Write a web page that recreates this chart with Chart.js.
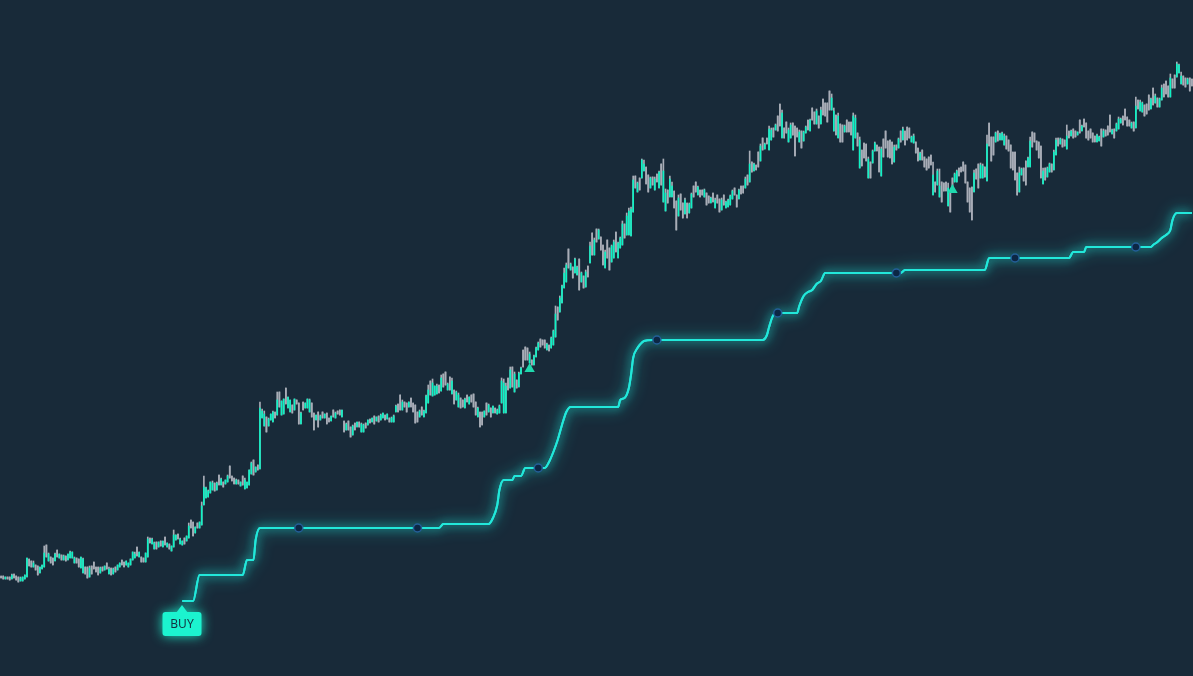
<!DOCTYPE html>
<html>
<head>
<meta charset="utf-8">
<title>Trailing stop chart</title>
<script src="https://cdn.jsdelivr.net/npm/chart.js@4.4.0/dist/chart.umd.min.js"></script>
<style>
  html, body { margin: 0; padding: 0; background: #182a39; overflow: hidden; }
  canvas { display: block; }
</style>
</head>
<body>
<canvas id="chart" width="1193" height="676"></canvas>
<script>
// [open, high, low, close] per bar
const candles = [
  [100,100,98,98],[100,100,97,97],[97,99,97,99],[99,99,97,97],[99,99,96,96],[97,102,97,101],[102,102,98,98],[100,100,96,96],
  [99,99,94,94],[95,99,95,98],[95,99,95,99],[97,101,97,101],[99,118,99,118],[117,117,110,110],[115,115,109,109],[109,115,109,113],
  [111,111,106,106],[110,110,101,101],[103,109,103,109],[107,111,107,111],[109,130,109,123],[131,131,119,119],[115,123,115,122],[119,119,113,113],
  [118,118,111,111],[115,123,115,122],[126,126,119,119],[118,122,118,122],[121,121,116,116],[116,121,116,120],[120,120,115,115],[116,122,116,122],
  [118,125,118,124],[118,124,118,124],[113,119,113,118],[118,118,113,113],[117,117,109,109],[108,119,108,119],[103,118,103,117],[109,109,102,102],
  [109,109,98,98],[99,110,99,108],[110,110,102,102],[114,114,107,107],[109,109,104,104],[109,109,101,101],[103,109,103,108],[109,109,105,105],
  [106,110,106,110],[113,113,107,107],[102,109,102,107],[108,108,101,101],[102,108,102,107],[109,109,104,104],[106,111,106,111],[109,113,109,113],
  [116,116,111,111],[114,114,109,109],[111,115,111,115],[109,113,109,113],[111,117,111,117],[116,124,116,124],[118,124,118,122],[129,129,120,120],
  [119,124,119,124],[119,119,114,114],[118,118,114,114],[114,123,114,123],[119,139,119,137],[138,138,133,133],[132,138,132,137],[127,134,127,133],
  [134,134,127,127],[129,134,129,134],[135,135,130,130],[129,135,129,135],[139,139,131,131],[129,133,129,133],[132,132,127,127],[125,130,125,130],
  [129,146,129,141],[136,141,136,141],[142,142,137,137],[132,138,132,137],[131,135,131,135],[138,138,132,132],[135,140,135,140],[138,153,138,150],
  [156,156,148,148],[154,154,140,140],[143,149,143,149],[153,153,148,148],[148,154,148,154],[151,174,151,170],
  [171,200,171,189],[178,189,178,188],[179,186,179,185],[183,194,183,194],[186,195,186,193],[193,193,185,185],[186,194,186,193],[201,201,191,191],
  [191,198,191,197],[194,194,189,189],[192,196,192,196],[194,201,194,200],[210,210,198,198],[200,200,195,195],[198,198,192,192],[192,197,192,196],
  [196,196,192,192],[190,194,190,194],[200,200,191,191],[187,198,187,196],[188,194,188,194],[191,206,191,206],[202,214,202,213],[216,216,201,201],
  [204,209,204,209],[211,211,206,206],[207,274,207,268],[258,267,258,265],[250,265,250,262],[259,259,244,244],[250,258,250,257],[256,262,256,262],
  [254,265,254,264],[264,264,258,258],[261,284,261,276],[284,284,269,269],[261,275,261,275],[262,277,262,277],[288,288,272,272],[268,279,268,279],
  [264,276,264,276],[271,271,263,263],[266,277,266,277],[276,276,272,272],[273,273,252,252],[252,264,252,263],[274,274,266,266],[268,273,268,273],
  [268,277,268,277],[264,277,264,276],[273,273,259,259],[263,263,246,246],[256,261,256,261],[264,264,249,249],[256,261,256,260],[264,264,258,258],
  [258,262,258,262],[263,263,252,252],[258,258,254,254],[255,260,255,260],[266,266,259,259],[258,264,258,263],[265,265,262,262],[266,266,261,261],
  [259,266,259,266],[255,255,244,244],[246,253,246,252],[255,255,246,246],[249,249,239,239],[241,251,241,250],[253,253,246,246],[249,254,249,254],
  [254,254,249,249],[244,253,244,252],[244,252,244,251],[253,253,248,248],[251,256,251,256],[257,257,253,253],[254,258,254,258],[260,260,252,252],
  [255,259,255,259],[260,260,254,254],[256,262,256,261],[258,263,258,263],[261,261,256,256],[257,262,257,262],[258,258,254,254],[254,259,254,258],
  [254,261,254,260],[264,271,264,270],[272,272,264,264],
  [281,281,266,266],[266,276,266,274],[274,274,269,269],[273,273,264,264],[269,274,269,274],[278,278,269,269],[273,273,264,264],[271,271,253,253],
  [264,264,254,254],[259,266,259,265],[269,269,261,261],[259,266,259,265],[263,281,263,280],[273,291,273,286],[295,295,281,281],[280,297,280,293],
  [281,290,281,290],[282,292,282,290],[291,291,283,283],[285,301,285,298],[302,302,289,289],[304,304,291,291],[286,293,286,292],[299,299,286,286],
  [282,298,282,295],[286,286,272,272],[276,285,276,284],[269,283,269,281],[278,278,268,268],[276,276,269,269],[268,278,268,277],[281,281,274,274],
  [272,279,272,279],[281,281,274,274],[282,282,269,269],[274,274,261,261],[259,269,259,268],[264,264,249,249],[264,264,251,251],[259,265,259,265],
  [273,273,261,261],[264,272,264,271],[268,268,259,259],[263,270,263,270],[268,268,263,263],[262,267,262,266],[263,271,263,270],[273,298,273,295],
  [263,297,263,293],[263,293,263,290],[298,298,286,286],[288,309,288,306],[309,309,289,289],[284,304,284,302],[296,296,288,288],[289,304,289,303],
  [302,309,302,308],[326,326,309,309],[329,329,316,316],[328,328,316,316],[313,324,313,322],[316,316,311,311],[311,321,311,320],[319,329,319,328],
  [326,334,326,333],[337,337,329,329],[336,336,331,331],[336,336,328,328],[326,333,326,332],[331,331,325,325],[328,339,328,338],[331,346,331,345],
  [339,370,339,362],[369,369,356,356],[364,380,364,378],[373,391,373,390],[388,408,388,403],[394,413,394,411],[427,427,408,408],[406,413,406,412],
  [409,409,398,398],[403,418,403,417],[401,410,401,409],[417,417,386,386],[394,404,394,403],[400,400,388,388],[389,406,389,404],[410,410,399,399],
  [413,434,413,430],[443,443,421,421],
  [421,438,421,436],[447,447,434,434],[437,447,437,446],[439,439,426,426],[431,431,411,411],[408,426,408,424],[436,436,418,418],[428,428,406,406],
  [414,431,414,430],[418,436,418,434],[444,444,424,424],[418,434,418,433],[428,439,428,438],[431,455,431,452],[452,452,438,438],[441,463,441,460],
  [441,468,441,465],[440,469,440,467],[464,500,464,496],[500,500,488,488],[484,494,484,493],[498,498,486,486],[498,517,498,516],[505,516,505,512],
  [509,509,492,492],[501,501,484,484],[488,499,488,498],[499,499,491,491],[486,499,486,497],[502,502,494,494],[488,505,488,504],[512,512,491,491],
  [474,517,474,505],[465,487,465,483],[486,486,473,473],[479,500,479,497],[479,494,479,490],[485,485,468,468],[475,475,446,446],[460,481,460,478],
  [482,482,466,466],[473,473,458,458],[462,478,462,476],[473,473,458,458],[463,473,463,472],[468,483,468,482],[490,490,479,479],[494,494,484,484],
  [481,490,481,489],[486,486,479,479],[486,486,481,481],[479,487,479,486],[483,483,471,471],[480,480,473,473],[473,479,473,478],[483,483,474,474],
  [468,478,468,476],[481,481,473,473],[477,477,464,464],[466,478,466,476],[481,481,471,471],[468,475,468,474],[469,477,469,476],[471,481,471,480],
  [477,486,477,485],[488,488,481,481],[481,481,469,469],[477,487,477,486],[490,490,482,482],[490,490,483,483],[488,499,488,497],[501,501,491,491],
  [494,525,494,512],[514,514,504,504],[505,513,505,512],[511,511,506,506],[524,524,509,509],[515,532,515,530],[538,538,526,526],[527,533,527,532],
  [538,538,532,532],[526,550,526,547],[536,548,536,546],[548,548,539,539],[546,552,546,551],[560,560,545,545],[572,572,550,550],[538,566,538,563],
  [548,548,538,538],[554,554,543,543],[534,548,534,546],[538,553,538,551],[553,553,541,541],[550,550,520,520],[548,548,539,539],[534,546,534,544],
  [545,545,528,528],[535,545,535,544],
  [543,550,543,549],[556,556,546,546],[545,557,545,556],[568,568,556,556],[564,564,552,552],[552,567,552,565],[560,560,548,548],[552,569,552,566],
  [577,577,561,561],[573,573,560,560],[573,573,554,554],[585,585,566,566],[566,582,566,578],[545,568,545,565],[561,561,541,541],[538,563,538,560],
  [552,552,534,534],[551,551,534,534],[544,551,544,550],[556,556,544,544],[554,554,544,544],[554,554,541,541],[526,563,526,560],[538,561,538,558],
  [543,543,530,530],[508,539,508,536],[526,526,510,510],[533,533,518,518],[532,532,515,515],[498,519,498,517],[514,514,498,498],[513,526,513,525],
  [525,534,525,533],[531,531,525,525],[529,529,504,504],[500,529,500,527],[537,537,519,519],[545,545,528,528],[535,535,519,519],[536,536,518,518],
  [534,534,512,512],[514,531,514,529],[531,531,526,526],[528,538,528,537],[545,545,534,534],[536,549,536,547],[545,545,531,531],[549,549,536,536],
  [548,548,538,538],[534,540,534,539],[533,542,533,540],[534,534,523,523],[528,528,515,515],[516,524,516,523],[526,526,516,516],[519,519,509,509],
  [517,517,506,506],[519,519,508,508],[521,521,511,511],[481,514,481,501],[494,494,484,484],[491,507,491,505],[479,507,479,490],[494,494,474,474],
  [493,493,485,485],[494,494,485,485],[470,493,470,488],[484,484,464,464],[498,498,484,484],[494,503,494,502],[494,506,494,505],[508,508,500,500],
  [509,509,504,504],[514,514,505,505],[511,511,493,493],[494,494,474,474],[488,488,464,464],[489,489,456,456],[484,506,484,503],[507,507,497,497],
  [512,512,488,488],[498,513,498,511],[498,512,498,510],[509,509,499,499],[495,541,495,532],[553,553,530,530],[539,539,515,515],[539,539,521,521],
  [534,544,534,543],[545,545,535,535],[536,543,536,542],[536,544,536,543],
  [531,542,531,540],[540,540,527,527],[536,536,525,525],[531,531,508,508],[524,524,506,506],[524,524,496,496],[503,503,481,481],[484,509,484,503],
  [501,508,501,507],[508,508,495,495],[515,515,491,491],[509,519,509,518],[509,539,509,535],[544,544,529,529],[543,543,534,534],[535,535,526,526],
  [534,534,518,518],[530,530,498,498],[492,508,492,505],[508,508,496,496],[499,509,499,508],[504,513,504,512],[512,512,504,504],[506,526,506,524],
  [521,538,521,536],[538,538,530,530],[532,538,532,537],[537,537,529,529],[536,536,530,530],[527,551,527,540],[545,545,538,538],[540,546,540,545],
  [547,547,538,538],[545,545,539,539],[541,544,541,544],[556,556,543,543],[545,551,545,550],[557,557,549,549],[553,553,538,538],[545,545,536,536],
  [547,547,538,538],[543,543,534,534],[540,540,534,534],[534,542,534,541],[535,540,535,539],[547,547,530,530],[539,547,539,545],[546,546,540,540],
  [550,550,541,541],[561,561,544,544],[542,547,542,546],[547,547,538,538],[545,553,545,552],[547,559,547,557],[553,558,553,557],[560,560,551,551],
  [567,567,556,556],[559,559,550,550],[556,556,550,550],[548,554,548,553],[554,554,545,545],[548,579,548,570],[576,576,567,567],[565,576,565,574],
  [564,574,564,573],[571,571,560,560],[572,572,562,562],[581,581,566,566],[567,578,567,577],[588,588,571,571],[573,582,573,580],[578,578,569,569],
  [569,578,569,577],[576,591,576,588],[592,592,579,579],[595,595,582,582],[590,590,579,579],[579,602,579,598],[597,597,588,588],[601,601,588,588],
  [599,614,599,612],[603,612,603,611],[592,604,592,600],[600,600,591,591],[598,598,589,589],[592,598,592,597],[598,598,585,585],[597,597,590,590]
];

// trailing stop: [bar index, level] at each corner of the line
const stopPoints = [
  [84,75],[89,75],[92,101],[112,101],[114,116],[117,116],[118,136],[120,148],[203,148],[205,152],[226,152],
  [228,158],[230,171],[231,186],[233,196],[237,196],[238,200],[241,200],[243,208],[252,208],[254,214],[256,224],
  [258,236],[260,251],[262,264],[264,269],[286,269],[287,276],[289,278],[291,288],[292,301],[293,318],[295,328],
  [296,331],[298,335],[302,336],[353,336],[355,341],[356,349],[358,361],[360,363],[369,363],[370,370],[372,380],
  [374,384],[376,386],[378,392],[380,395],[382,403],[417,403],[419,406],[456,406],[458,418],[495,418],[497,424],
  [502,424],[503,429],[533,429],[534,431],[536,434],[538,438],[540,441],[542,446],[543,456],[545,463],[552,463]
];

// markers sitting on the stop line
const dotBars = [138, 193, 249, 304, 360, 415, 470, 526];
const dotLevels = [148, 148, 208, 336, 363, 403, 418, 429];

// small signal triangles
const signalBars = [245, 441];
const signalLevels = [307, 486];

// BUY entry
const buyBar = 84;
const buyLevel = 75;

const UP = '#0df3c5';
const DOWN = '#a8adb7';
const LINE = '#22e8da';

const N = candles.length;
const wickData = candles.map((c, i) => ({ x: i, y: [c[2], c[1]] }));
const bodyData = candles.map((c, i) => ({ x: i, y: [c[0], c[3]] }));
const bodyColors = candles.map(c => (c[3] > c[0] ? UP : DOWN));

// glow round the stop line: the line is drawn a second time with a shadow
const glow = {
    id: 'glow',
    beforeDatasetDraw(chart, args) {
        if (chart.data.datasets[args.index].label !== 'stop') return;
        const ctx = chart.ctx;
        ctx.save();
        ctx.shadowColor = 'rgba(34, 232, 218, 1)';
        ctx.shadowBlur = 16;
    },
    afterDatasetDraw(chart, args) {
        if (chart.data.datasets[args.index].label !== 'stop') return;
        const ctx = chart.ctx;
        ctx.shadowBlur = 8;
        args.meta.dataset.draw(ctx, chart.chartArea);
        ctx.restore();
    }
};

// BUY tag under the first stop point
const buyLabel = {
    id: 'buyLabel',
    afterDatasetsDraw(chart) {
        const ctx = chart.ctx;
        const px = Math.round(chart.scales.x.getPixelForValue(buyBar));
        const py = chart.scales.y.getPixelForValue(buyLevel);
        const w = 39, h = 24, top = Math.round(py + 11);
        ctx.save();
        ctx.shadowColor = 'rgba(30, 245, 210, 0.9)';
        ctx.shadowBlur = 12;
        ctx.fillStyle = '#1cf3cf';
        ctx.beginPath();
        ctx.roundRect(px - w / 2, top, w, h, 3);
        ctx.fill();
        ctx.beginPath();
        ctx.moveTo(px - 6, top + 1);
        ctx.lineTo(px, top - 7);
        ctx.lineTo(px + 6, top + 1);
        ctx.closePath();
        ctx.fill();
        ctx.shadowBlur = 0;
        ctx.fillStyle = '#143040';
        ctx.font = '12px "Noto Sans"';
        ctx.textAlign = 'center';
        ctx.textBaseline = 'middle';
        ctx.fillText('BUY', px, top + h / 2 + 1);
        ctx.restore();
    }
};

const ctx = document.getElementById('chart').getContext('2d');
new Chart(ctx, {
    type: 'bar',
    data: {
        datasets: [
            {
                type: 'line',
                label: 'signals',
                data: signalBars.map((b, i) => ({ x: b, y: signalLevels[i] })),
                showLine: false,
                pointStyle: 'triangle',
                pointRadius: 6,
                backgroundColor: '#1fd9ae',
                borderColor: '#1fd9ae',
                borderWidth: 0,
                order: 0
            },
            {
                type: 'line',
                label: 'dots',
                data: dotBars.map((b, i) => ({ x: b, y: dotLevels[i] })),
                showLine: false,
                pointRadius: 4,
                backgroundColor: '#0c2744',
                borderColor: '#245f98',
                borderWidth: 1.5,
                order: 1
            },
            {
                type: 'line',
                label: 'stop',
                data: stopPoints.map(p => ({ x: p[0], y: p[1] })),
                borderColor: LINE,
                borderWidth: 2,
                pointRadius: 0,
                cubicInterpolationMode: 'monotone',
                order: 2
            },
            {
                label: 'body',
                data: bodyData,
                backgroundColor: bodyColors,
                barThickness: 1,
                grouped: false,
                order: 3
            },
            {
                label: 'wick',
                data: wickData,
                backgroundColor: DOWN,
                barThickness: 1,
                grouped: false,
                order: 4
            }
        ]
    },
    options: {
        animation: false,
        responsive: false,
        devicePixelRatio: 1,
        layout: { padding: 0, autoPadding: false },
        plugins: {
            legend: { display: false },
            tooltip: { enabled: false }
        },
        scales: {
            x: { type: 'linear', min: -0.5, max: N - 0.5, offset: false, display: false },
            y: { min: 0, max: 676, display: false }
        }
    },
    plugins: [glow, buyLabel]
});
</script>
</body>
</html>
